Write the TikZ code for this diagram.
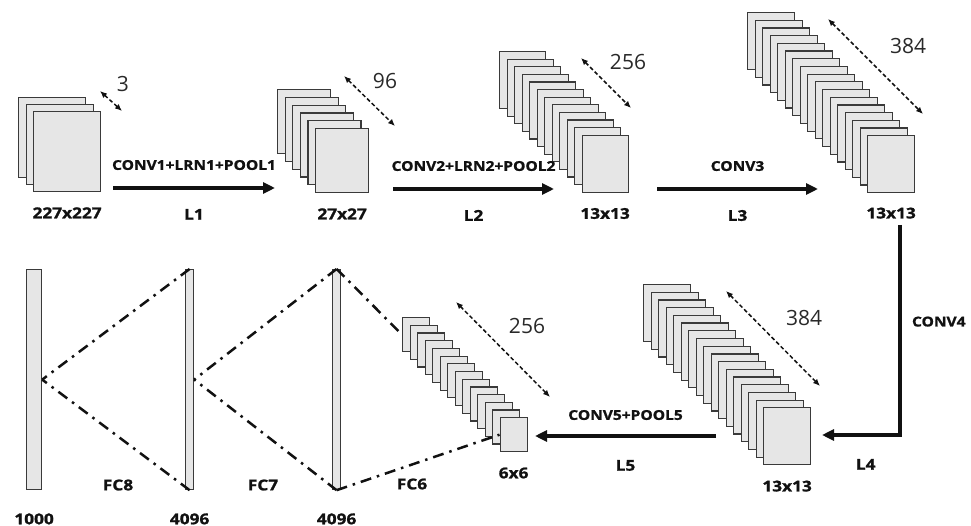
\documentclass[tikz,border=0pt]{standalone}
\usepackage{fontspec}
\setmainfont{Open Sans}
\newfontfamily\labelfont[FakeStretch=1.15, BoldFeatures={FakeBold=1.2}]{Open Sans}
\usetikzlibrary{arrows.meta,positioning,calc}
\definecolor{ink}{HTML}{111111}
\definecolor{edge}{HTML}{3A3A3A}
\definecolor{sheet}{HTML}{E6E6E6}
\tikzset{
  plane/.style={
    draw=edge, fill=sheet, line width=1.2pt,
    inner sep=0pt, anchor=north west
  },
  bar/.style={
    draw=edge, fill=sheet, line width=1.2pt,
    inner sep=0pt, anchor=north west, minimum height=220pt
  },
  dim/.style={font=\labelfont\bfseries\fontsize{15}{18}\selectfont, text=ink, inner sep=0pt},
  op/.style={font=\labelfont\bfseries\fontsize{13.5}{16}\selectfont, text=ink, inner sep=0pt},
  depth/.style={font=\fontsize{21}{24}\selectfont, text=ink!90, inner sep=0pt},
  flow/.style={-{Triangle[length=12pt,width=11pt]}, line width=4pt, draw=ink},
  span/.style={
    {Latex[length=7pt,width=6pt]}-{Latex[length=7pt,width=6pt]},
    line width=1.5pt, dash pattern=on 4pt off 2.5pt, draw=ink
  },
  fc/.style={line width=2.5pt, dash pattern=on 11pt off 6pt on 2.5pt off 6pt, draw=ink}
}

\begin{document}
\begin{tikzpicture}[x=1pt, y=-1pt]
    \useasboundingbox (0,0) rectangle (971,526);

    \foreach \s/\n/\x/\y/\w/\h/\dx/\dy in {
        s1/2/18/97/67/80/7.5/7, s2/5/277/89/53/64/7.6/7.8,
        s3/11/499/51/46/57/7.5/7.6, s4/16/747/12/47/57/7.5/7.7,
        s5/16/643/284/47/57/7.5/7.7, s6/13/402/317/27/34/7.5/7.7}
      \foreach \i in {0,...,\n}
        \node[plane, minimum width=\w pt, minimum height=\h pt] (\s-\i) at (\x+\dx*\i, \y+\dy*\i) {};

    \node[dim, below=15pt of s1-2] (d1) {227x227};
    \node[dim, below=15pt of s2-5] (d2) {27x27};
    \node[dim, below=15pt of s3-11] (d3) {13x13};
    \node[dim, below=14pt of s4-16] (d4) {13x13};
    \node[dim, below=15pt of s5-16] (d5) {13x13};
    \node[dim, below=15pt of s6-13] (d6) {6x6};

    \coordinate (l1a) at (113,188);
    \coordinate (l1b) at (275,188);
    \coordinate (l2a) at (393,189);
    \coordinate (l2b) at (554,189);
    \coordinate (l3a) at (657,189);
    \coordinate (l3b) at (818,189);
    \coordinate (l4a) at (900,225);
    \coordinate (l4b) at (822,435);
    \coordinate (l5a) at (716,436);
    \coordinate (l5b) at (535,436);
    \draw[flow] (l1a) -- (l1b) node[op, midway, above=16pt] {CONV1+LRN1+POOL1} node[dim, midway, below=19pt] {L1};
    \draw[flow] (l2a) -- (l2b) node[op, midway, above=16pt] {CONV2+LRN2+POOL2} node[dim, midway, below=19pt] {L2};
    \draw[flow] (l3a) -- (l3b) node[op, midway, above=16pt] {CONV3} node[dim, midway, below=19pt] {L3};
    \draw[flow] (l4a) |- (l4b) node[op, pos=0.23, right=10pt] {CONV4} node[dim, pos=0.72, below=22pt] {L4};
    \draw[flow] (l5a) -- (l5b) node[op, midway, above=14pt] {CONV5+POOL5} node[dim, midway, below=22pt] {L5};

    \coordinate (k1a) at (100,91);
    \coordinate (k1b) at (122,111);
    \coordinate (k2a) at (344,76);
    \coordinate (k2b) at (395,126);
    \coordinate (k3a) at (581,58);
    \coordinate (k3b) at (631,108);
    \coordinate (k4a) at (828,19);
    \coordinate (k4b) at (923,114);
    \coordinate (k5a) at (726,291);
    \coordinate (k5b) at (820,386);
    \coordinate (k6a) at (456,302);
    \coordinate (k6b) at (550,397);
    \draw[span] (k1a) -- (k1b);
    \draw[span] (k2a) -- (k2b);
    \draw[span] (k3a) -- (k3b);
    \draw[span] (k4a) -- (k4b);
    \draw[span] (k5a) -- (k5b);
    \draw[span] (k6a) -- (k6b);
    \node[depth] (n1) at (123,84) {3};
    \node[depth] (n2) at (385,81) {96};
    \node[depth] (n3) at (628,62) {256};
    \node[depth] (n4) at (908,46) {384};
    \node[depth] (n5) at (804,318) {384};
    \node[depth] (n6) at (527,326) {256};

    \node[bar, minimum width=15pt] (f1000) at (26,269) {};
    \node[bar, minimum width=8pt] (f4096a) at (185,269) {};
    \node[bar, minimum width=8pt] (f4096b) at (332,269) {};
    \node[dim, below=23pt of f1000] (u1) {1000};
    \node[dim, below=23pt of f4096a] (u2) {4096};
    \node[dim, below=23pt of f4096b] (u3) {4096};

    \draw[fc] (f4096a.north) -- (f1000.east);
    \draw[fc] (f4096a.south) -- (f1000.east);
    \draw[fc] (f4096b.north) -- (f4096a.east);
    \draw[fc] (f4096b.south) -- (f4096a.east);
    \draw[fc] (f4096b.north) -- (s6-0.west);
    \draw[fc] (f4096b.south) -- (s6-13.west);
    \node[dim] (fc8) at (118,485) {FC8};
    \node[dim] (fc7) at (263,485) {FC7};
    \node[dim] (fc6) at (412,484) {FC6};
  \end{tikzpicture}
\end{document}
